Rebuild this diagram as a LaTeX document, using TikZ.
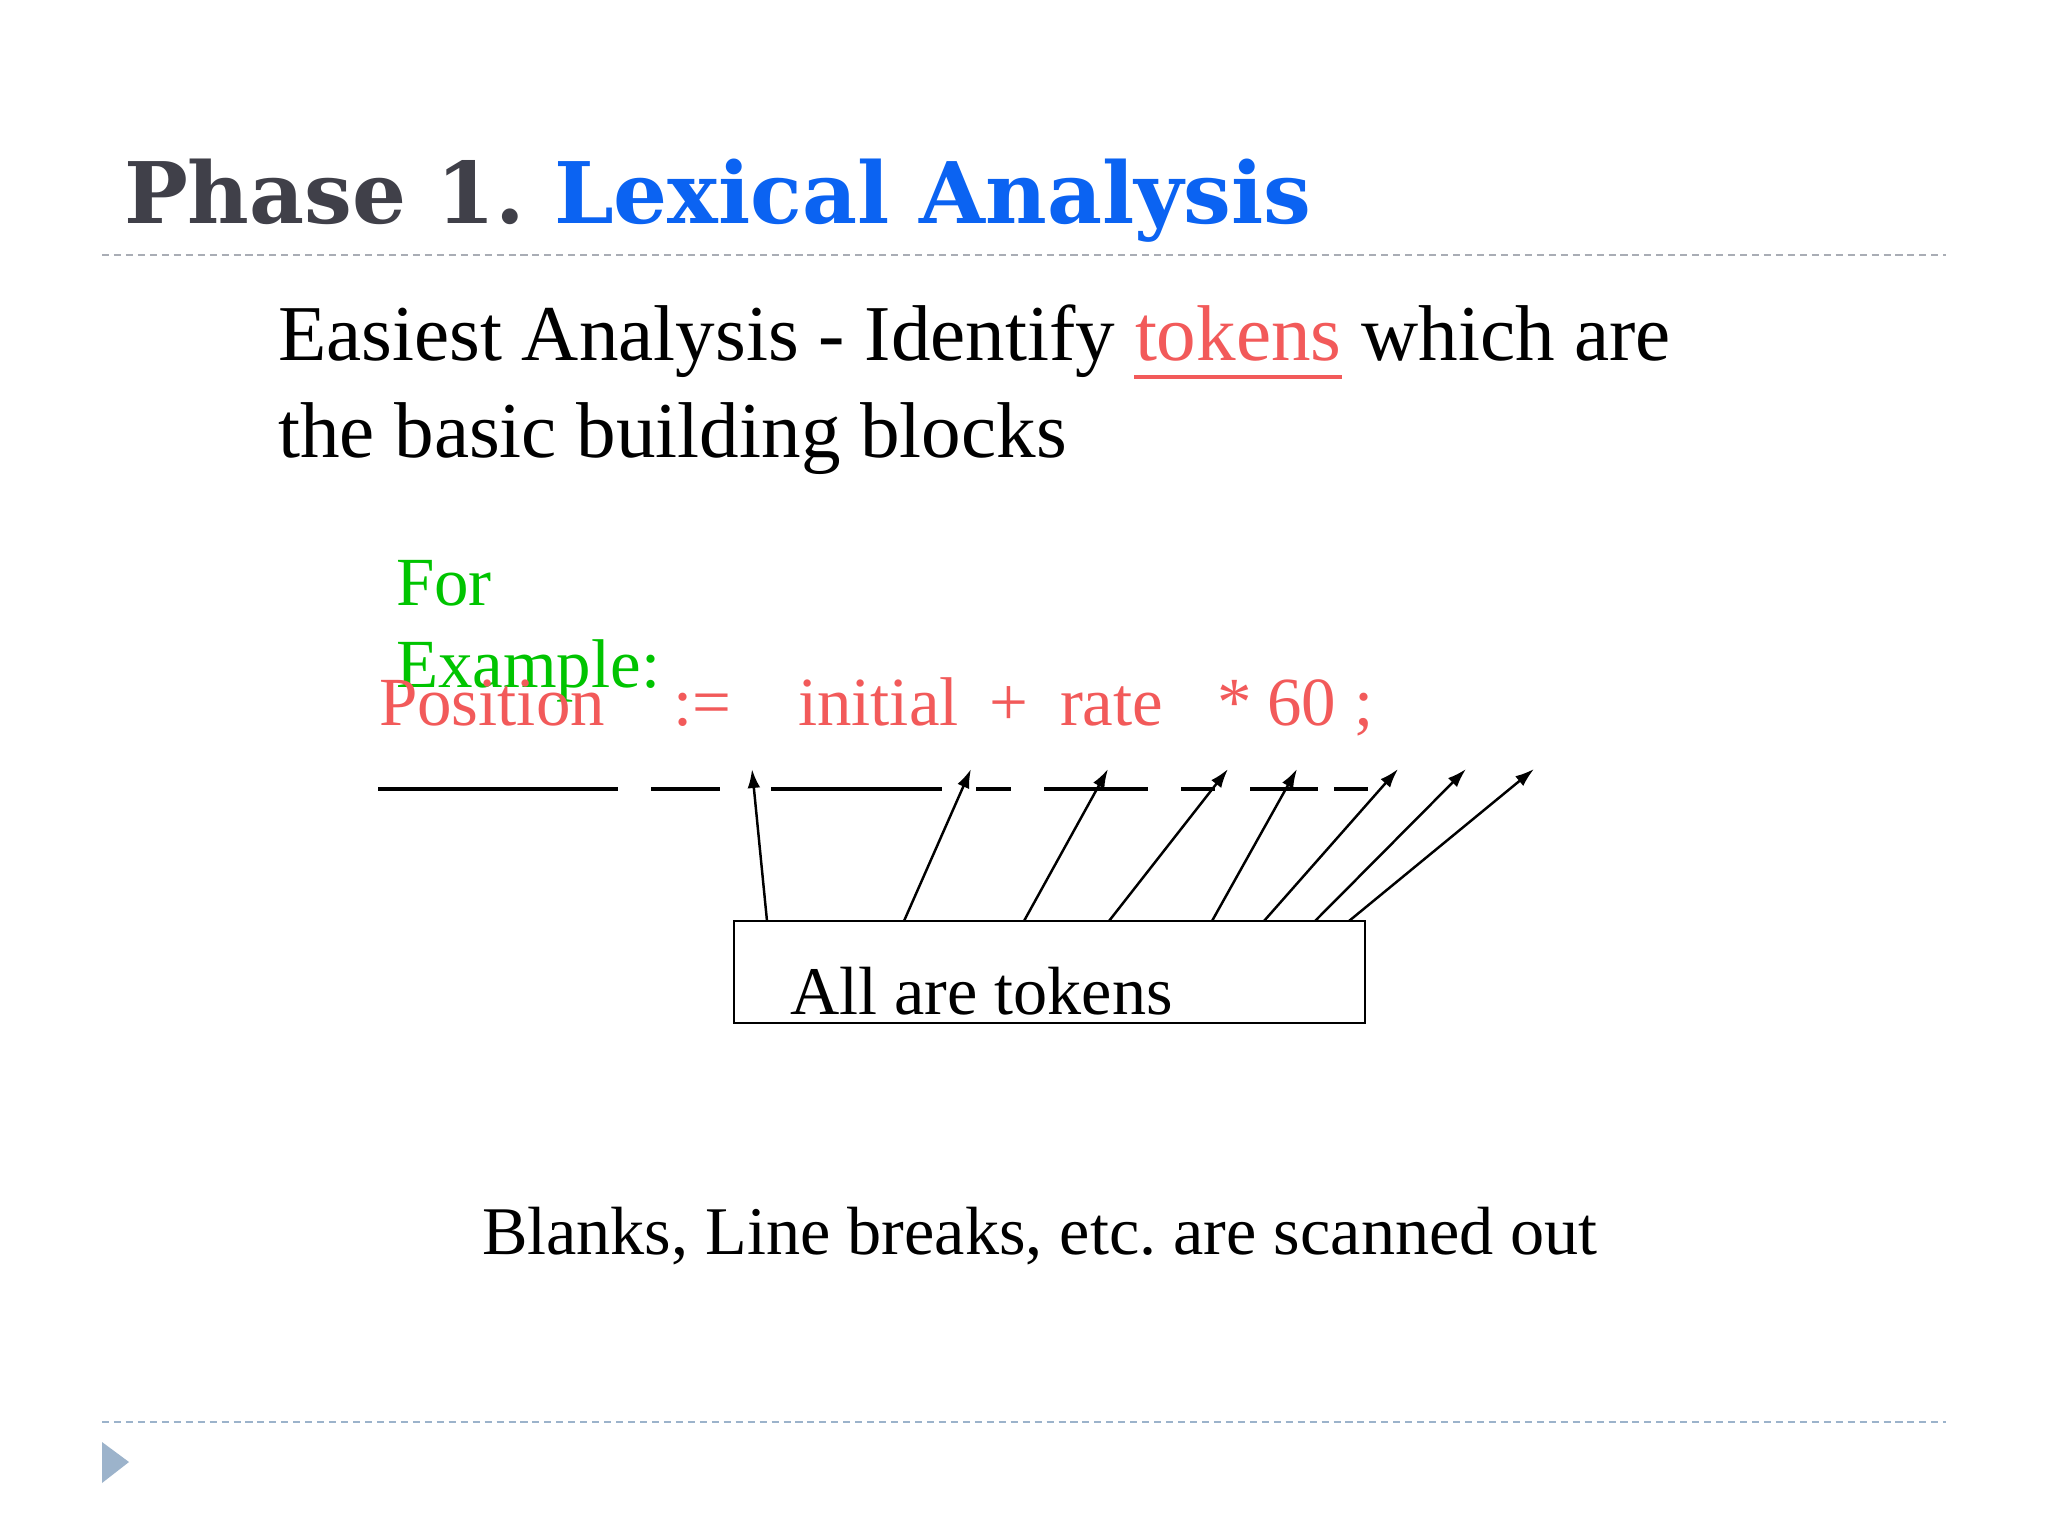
\documentclass[tikz,border=0pt]{standalone}
\usepackage{fontspec}
\setmainfont{Liberation Serif}
\newfontfamily\titlefont{DejaVu Serif}
\usetikzlibrary{arrows.meta}
\definecolor{titlegray}{HTML}{404049}
\definecolor{titleblue}{HTML}{0B63F2}
\definecolor{tokred}{HTML}{F25A5A}
\definecolor{exgreen}{HTML}{00C400}
\definecolor{rulegray}{HTML}{A9ADB5}
\definecolor{ruleblue}{HTML}{9CB3CB}
\begin{document}
\frenchspacing
\begin{tikzpicture}[x=0.01cm,y=-0.01cm,
  txt/.style={anchor=base west,inner sep=0pt,outer sep=0pt},
  bodyfont/.style={font=\fontsize{22.5pt}{27pt}\selectfont},
  midfont/.style={font=\fontsize{19.6pt}{23pt}\selectfont},
  lowfont/.style={font=\fontsize{19.4pt}{23pt}\selectfont},
  rulestyle/.style={line width=0.6pt,dash pattern=on 2pt off 1.4pt},
  blank/.style={line width=0.9pt,black},
  tokarrow/.style={line width=0.7pt,-{Latex[length=5.4pt,width=3.6pt]}},
  tokbox/.style={draw,line width=0.55pt,minimum width=6.31cm,minimum height=1.02cm,inner sep=0pt}]
\useasboundingbox[fill=white] (0,0) rectangle (2048,1536);
% title
\node[txt,font=\titlefont\bfseries\fontsize{24.15pt}{28pt}\selectfont] (title) at (124,223)
  {\textcolor{titlegray}{Phase 1.} \textcolor{titleblue}{Lexical Analysis}};
\draw[rulestyle,rulegray] (102,255) -- (1946,255);
\draw[rulestyle,ruleblue] (102,1422) -- (1946,1422);
\fill[ruleblue] (102,1442) -- (129,1462) -- (102,1483) -- cycle;
% body
\node[txt,bodyfont] (line1) at (278,360) {Easiest Analysis - Identify \textcolor{tokred}{tokens} which are};
\node[txt,bodyfont] (line2) at (278,457) {the basic building blocks};
\draw[tokred,line width=0.9pt] (1134,377) -- (1342,377);
% example
\node[txt,midfont,exgreen] (for) at (396,605) {For};
\node[txt,midfont,exgreen] (example) at (396,687) {Example:};
\foreach \w/\x [count=\i] in {Position/379,{:=}/673,initial/798,+/989,rate/1060,*/1217,60/1267,;/1354}
  \node[txt,midfont,tokred] (w\i) at (\x,725) {\w};
% blanks
\foreach \a/\b in {378/618,651/720,771/942,976/1011,1044/1148,1181/1215,1250/1318,1334/1368}
  \draw[blank] (\a,789) -- (\b,789);
% box
\node[tokbox] (box) at (1049.5,972) {};
\node[txt,lowfont] (boxtext) at (790,1014) {All are tokens};
% arrows
\foreach \t/\h [count=\i] in {767/752,904/971,1024/1108,1109/1228,1212/1297,1264/1398,1315/1466,1349/1534}{
  \coordinate (tail\i) at (\t,921);
  \coordinate (tip\i) at (\h,769);
  \draw[tokarrow] (tail\i) -- (tip\i);
}
\node[txt,lowfont] (blanks) at (482,1254) {Blanks, Line breaks, etc. are scanned out};
\end{tikzpicture}
\end{document}
